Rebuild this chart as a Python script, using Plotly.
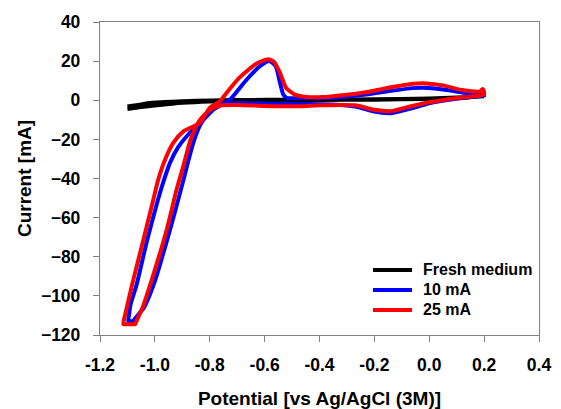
import plotly.graph_objects as go

# Fresh medium (closed thin loop)
fresh_x = [-1.10, -1.05, -1.00, -0.90, -0.80, -0.60, -0.40, -0.20, 0.00, 0.10, 0.20,
           0.10, 0.00, -0.20, -0.40, -0.60, -0.80, -0.90, -1.00, -1.05, -1.10]
fresh_y = [-4.5, -3.5, -2.7, -1.3, -0.6, -0.1, 0.1, 0.3, 0.7, 1.1, 2.0,
           1.4, 0.9, 0.5, 0.3, 0.2, -0.1, -0.5, -1.2, -2.1, -3.2]

# 10 mA
ma10_x = [0.20, 0.10, 0.00, -0.06, -0.14, -0.20, -0.27, -0.35, -0.47, -0.60, -0.70, -0.76,
          -0.80, -0.836, -0.86, -0.88, -0.90, -0.945, -0.999, -1.04, -1.072, -1.079,
          -1.085, -1.097, -1.095, -1.088, -1.068, -1.028, -0.993, -0.972, -0.945, -0.915,
          -0.875, -0.830, -0.787, -0.726, -0.695,
          -0.665, -0.617, -0.583, -0.560, -0.544, -0.532, -0.520, -0.47, -0.35, -0.23,
          -0.14, -0.06, -0.02, 0.05, 0.12, 0.20]
ma10_y = [2.5, 0.8, -1.5, -4.0, -6.6, -5.8, -3.2, -2.2, -1.9, -1.6, -1.4, -2.0,
          -5.5, -13.0, -21.8, -32.0, -43.0, -66.3, -92.0, -106.0, -111.5, -113.0,
          -113.0, -113.0, -110.5, -104.0, -95.0, -71.4, -53.0, -43.0, -32.0, -24.0,
          -17.0, -11.0, -4.8, 0.4, 5.5,
          10.6, 17.4, 20.0, 17.5, 8.9, 2.9, 1.2, 1.0, 1.3, 2.9,
          4.8, 6.2, 6.4, 5.5, 4.0, 2.5]

# 25 mA
ma25_x = [0.20, 0.10, 0.00, -0.07, -0.14, -0.20, -0.27, -0.40, -0.47, -0.60, -0.70, -0.76,
          -0.80, -0.835, -0.855, -0.872, -0.895, -0.921, -0.957, -1.012, -1.045, -1.066, -1.072,
          -1.080, -1.107, -1.115, -1.113, -1.109, -1.085, -1.042, -1.006, -0.988, -0.963,
          -0.933, -0.896, -0.836, -0.800, -0.763, -0.726,
          -0.690, -0.629, -0.587, -0.565, -0.544, -0.522, -0.490, -0.447, -0.387, -0.23,
          -0.14, -0.06, -0.01, 0.05, 0.12, 0.185, 0.195, 0.20]
ma25_y = [3.0, 1.2, -1.0, -3.2, -5.6, -4.9, -2.6, -2.6, -3.1, -2.9, -2.4, -2.6,
          -5.0, -10.0, -15.0, -21.0, -33.0, -45.8, -66.3, -92.0, -106.0, -112.5, -114.5,
          -114.5, -114.5, -114.5, -112.5, -110.0, -95.4, -71.4, -51.0, -40.7, -30.4,
          -21.8, -15.9, -11.6, -3.9, -0.5, 6.0,
          11.8, 18.8, 21.0, 19.5, 14.0, 6.4, 2.9, 1.7, 1.6, 4.1,
          6.6, 8.4, 8.6, 7.6, 5.2, 4.5, 5.8, 3.0]

series_names = ["Fresh medium", "10 mA", "25 mA"]
series_colors = ["#000000", "#0000ff", "#ff0000"]

x_ticks = [-1.2, -1.0, -0.8, -0.6, -0.4, -0.2, 0.0, 0.2, 0.4]
x_tick_labels = ["-1.2", "-1.0", "-0.8", "-0.6", "-0.4", "-0.2", "0.0", "0.2", "0.4"]
y_ticks = [40, 20, 0, -20, -40, -60, -80, -100, -120]

FONT = "Arial, 'Liberation Sans', sans-serif"

fig = go.Figure()
for xs, ys, nm, col in zip([fresh_x, ma10_x, ma25_x], [fresh_y, ma10_y, ma25_y],
                           series_names, series_colors):
    fig.add_trace(go.Scatter(x=xs, y=ys, mode="lines", name=nm, showlegend=False,
                             line=dict(color=col, width=4, shape="spline", smoothing=0.6)))

axis_common = dict(showgrid=False, zeroline=False, showline=True, linecolor="#808080",
                   linewidth=1.3, mirror=True, ticks="outside", ticklen=6, tickcolor="#808080",
                   tickwidth=1.3, automargin=False,
                   tickfont=dict(family=FONT, size=17.5, color="black", weight="bold"))

fig.update_xaxes(range=[-1.2, 0.4], tickvals=x_ticks, ticktext=x_tick_labels,
                 title=dict(text="<b>Potential [vs Ag/AgCl (3M)]</b>",
                            font=dict(family=FONT, size=19, color="black"), standoff=17),
                 ticklabelstandoff=8, **axis_common)
fig.update_yaxes(range=[-120, 40], tickvals=y_ticks,
                 title=dict(text="<b>Current [mA]</b>",
                            font=dict(family=FONT, size=19, color="black"), standoff=4),
                 ticklabelstandoff=9, **axis_common)

# legend drawn in paper coordinates (bottom-right inside the plot)
leg_x0, leg_x1, leg_tx = 0.6219, 0.7107, 0.7312
leg_rows = [0.2077, 0.1438, 0.0799]
for nm, col, ry in zip(series_names, series_colors, leg_rows):
    fig.add_shape(type="line", xref="paper", yref="paper", x0=leg_x0, x1=leg_x1, y0=ry, y1=ry,
                  line=dict(color=col, width=4))
    fig.add_annotation(xref="paper", yref="paper", x=leg_tx, y=ry, xanchor="left", yanchor="middle",
                       text="<b>%s</b>" % nm, showarrow=False,
                       font=dict(family=FONT, size=16, color="black"))

fig.update_layout(
    width=553, height=401,
    margin=dict(l=92, r=22, t=14, b=74),
    paper_bgcolor="white", plot_bgcolor="white",
    showlegend=False,
)

fig.write_html("out.html")
